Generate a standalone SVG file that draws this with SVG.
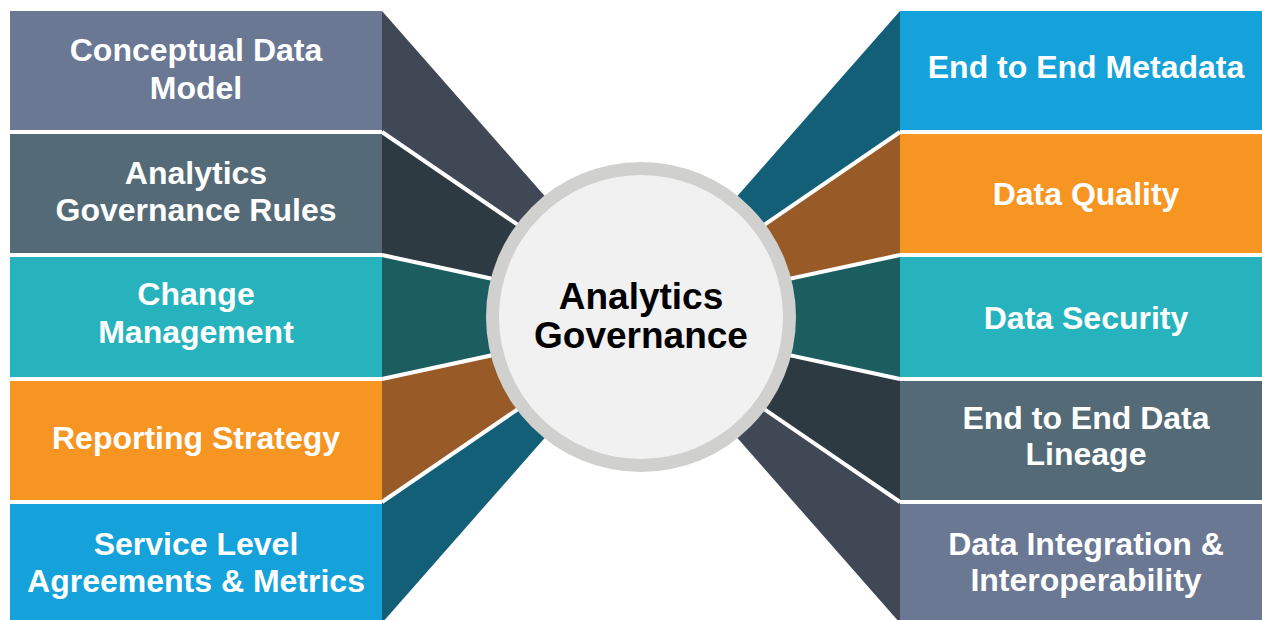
<svg xmlns="http://www.w3.org/2000/svg" width="1262" height="620" viewBox="0 0 1262 620">
<style>
.lbl{font-family:"Liberation Sans",Arial,sans-serif;font-weight:bold;font-size:32px;fill:#ffffff;text-anchor:middle}
.ctr{font-family:"Liberation Sans",Arial,sans-serif;font-weight:bold;font-size:37px;fill:#000000;text-anchor:middle}
.sep{stroke:#ffffff;stroke-width:4;fill:none}
.c1{fill:#6a7894}.c2{fill:#546b77}.c3{fill:#27b3be}.c4{fill:#f79523}.c5{fill:#15a2da}
.f1{fill:#404755}.f2{fill:#2d3a41}.f3{fill:#1c5e60}.f4{fill:#985a26}.f5{fill:#135f78}
</style>
<rect width="1262" height="620" fill="#ffffff"/>
<g id="connectors">
  <polygon class="f1" points="382,11 382,132 600,281 600,259"/>
  <polygon class="f2" points="382,132 382,255 600,302 600,281"/>
  <polygon class="f3" points="382,255 382,379 600,332 600,302"/>
  <polygon class="f4" points="382,379 382,502 600,353 600,332"/>
  <polygon class="f5" points="382,502 382,623 600,375 600,353"/>
  <polygon class="f5" points="900,11 900,132 682,281 682,259"/>
  <polygon class="f4" points="900,132 900,255 682,302 682,281"/>
  <polygon class="f3" points="900,255 900,379 682,332 682,302"/>
  <polygon class="f2" points="900,379 900,502 682,353 682,332"/>
  <polygon class="f1" points="900,502 900,623 682,375 682,353"/>
  <line class="sep" x1="382" y1="132" x2="600" y2="281"/>
  <line class="sep" x1="382" y1="255" x2="600" y2="302"/>
  <line class="sep" x1="382" y1="379" x2="600" y2="332"/>
  <line class="sep" x1="382" y1="502" x2="600" y2="353"/>
  <line class="sep" x1="900" y1="132" x2="682" y2="281"/>
  <line class="sep" x1="900" y1="255" x2="682" y2="302"/>
  <line class="sep" x1="900" y1="379" x2="682" y2="332"/>
  <line class="sep" x1="900" y1="502" x2="682" y2="353"/>
</g>
<g id="center">
  <circle cx="641" cy="317" r="155" fill="#d0d0ce"/>
  <circle cx="641" cy="317" r="142" fill="#f1f1f1"/>
  <text class="ctr" x="641" y="308.5">Analytics</text>
  <text class="ctr" x="641" y="347.5">Governance</text>
</g>
<g id="conceptual-data-model">
  <rect class="c1" x="10" y="11" width="372" height="119"/>
  <text class="lbl" x="196" y="61">Conceptual Data</text>
  <text class="lbl" x="196" y="98.5">Model</text>
</g>
<g id="analytics-governance-rules">
  <rect class="c2" x="10" y="134" width="372" height="119"/>
  <text class="lbl" x="196" y="183.5">Analytics</text>
  <text class="lbl" x="196" y="221">Governance Rules</text>
</g>
<g id="change-management">
  <rect class="c3" x="10" y="257" width="372" height="120"/>
  <text class="lbl" x="196" y="305">Change</text>
  <text class="lbl" x="196" y="342.5">Management</text>
</g>
<g id="reporting-strategy">
  <rect class="c4" x="10" y="381" width="372" height="119"/>
  <text class="lbl" x="196" y="448.5">Reporting Strategy</text>
</g>
<g id="service-level">
  <rect class="c5" x="10" y="504" width="372" height="120"/>
  <text class="lbl" x="196" y="555">Service Level</text>
  <text class="lbl" x="196" y="592">Agreements &amp; Metrics</text>
</g>
<g id="end-to-end-metadata">
  <rect class="c5" x="900" y="11" width="372" height="119"/>
  <text class="lbl" x="1086" y="78">End to End Metadata</text>
</g>
<g id="data-quality">
  <rect class="c4" x="900" y="134" width="372" height="119"/>
  <text class="lbl" x="1086" y="205">Data Quality</text>
</g>
<g id="data-security">
  <rect class="c3" x="900" y="257" width="372" height="120"/>
  <text class="lbl" x="1086" y="329">Data Security</text>
</g>
<g id="data-lineage">
  <rect class="c2" x="900" y="381" width="372" height="119"/>
  <text class="lbl" x="1086" y="428.5">End to End Data</text>
  <text class="lbl" x="1086" y="465">Lineage</text>
</g>
<g id="data-integration">
  <rect class="c1" x="900" y="504" width="372" height="120"/>
  <text class="lbl" x="1086" y="554.5">Data Integration &amp;</text>
  <text class="lbl" x="1086" y="591">Interoperability</text>
</g>
</svg>
